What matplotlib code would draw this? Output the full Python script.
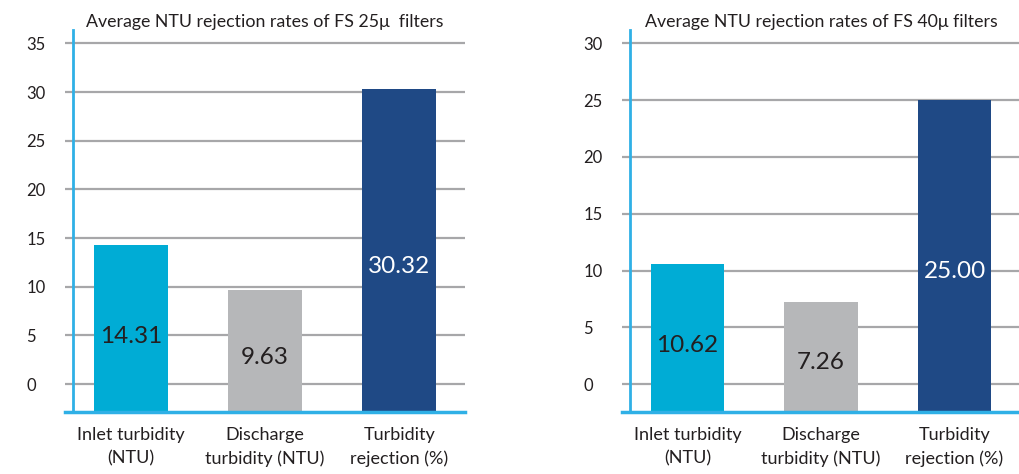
import numpy as np
import matplotlib.pyplot as plt

plt.rcParams['font.family'] = ['Lato', 'DejaVu Sans']

# duomenys
categories = ['Inlet turbidity\n(NTU)', 'Discharge\nturbidity (NTU)', 'Turbidity\nrejection (%)']
values_25 = [14.31, 9.63, 30.32]
values_40 = [10.62, 7.26, 25.00]
titles = ['Average NTU rejection rates of FS 25μ  filters',
          'Average NTU rejection rates of FS 40μ filters']

bar_colors = ['#00acd5', '#b6b7b9', '#1f4985']
label_colors = ['#231f20', '#231f20', 'white']
blue_line = '#2fb0e6'
txt = '#231f20'

fig = plt.figure(figsize=(10.2, 4.74), dpi=100)
ax1 = fig.add_axes([65/1020, 62/474, 400/1020, 382/474])
ax2 = fig.add_axes([622/1020, 62/474, 398/1020, 382/474])

panels = [
    (ax1, values_25, titles[0], (-2.86, 36.37), np.arange(0, 36, 5), 0.02),
    (ax2, values_40, titles[1], (-2.44, 31.17), np.arange(0, 31, 5), 8/398),
]

x = np.arange(len(categories))
for ax, vals, title, ylim, yt, spine_pos in panels:
    ymin = ylim[0]
    vals = np.array(vals)
    # stulpeliai nuo apatines linijos
    ax.bar(x, vals - ymin, bottom=ymin, width=0.55, color=bar_colors, zorder=2)
    for i, v in enumerate(vals):
        ax.text(x[i], ymin + 0.45 * (v - ymin), f'{v:.2f}', ha='center', va='center',
                fontsize=17.5, color=label_colors[i], zorder=3)

    ax.set_xlim(-0.49, 2.49)
    ax.set_ylim(*ylim)
    ax.set_yticks(yt)
    ax.set_yticklabels([str(t) for t in yt])
    ax.set_xticks(x)
    ax.set_xticklabels(categories, fontsize=13, color=txt, linespacing=1.55)
    ax.grid(axis='y', color='#a7a7a9', linewidth=1.6)
    ax.set_axisbelow(True)

    ax.spines['top'].set_visible(False)
    ax.spines['right'].set_visible(False)
    ax.spines['left'].set_position(('axes', spine_pos))
    ax.spines['left'].set_color(blue_line)
    ax.spines['left'].set_linewidth(2)
    ax.spines['bottom'].set_color(blue_line)
    ax.spines['bottom'].set_linewidth(2.5)

    ax.tick_params(axis='y', length=0, pad=33.5, labelsize=12, labelcolor=txt)
    for lab in ax.get_yticklabels():
        lab.set_horizontalalignment('left')
    ax.tick_params(axis='x', length=0, pad=11)

    ax.text(0.5, 1.0, title, transform=ax.transAxes, ha='center', va='bottom',
            fontsize=12.8, color=txt)

plt.savefig('out.png', dpi=100)
